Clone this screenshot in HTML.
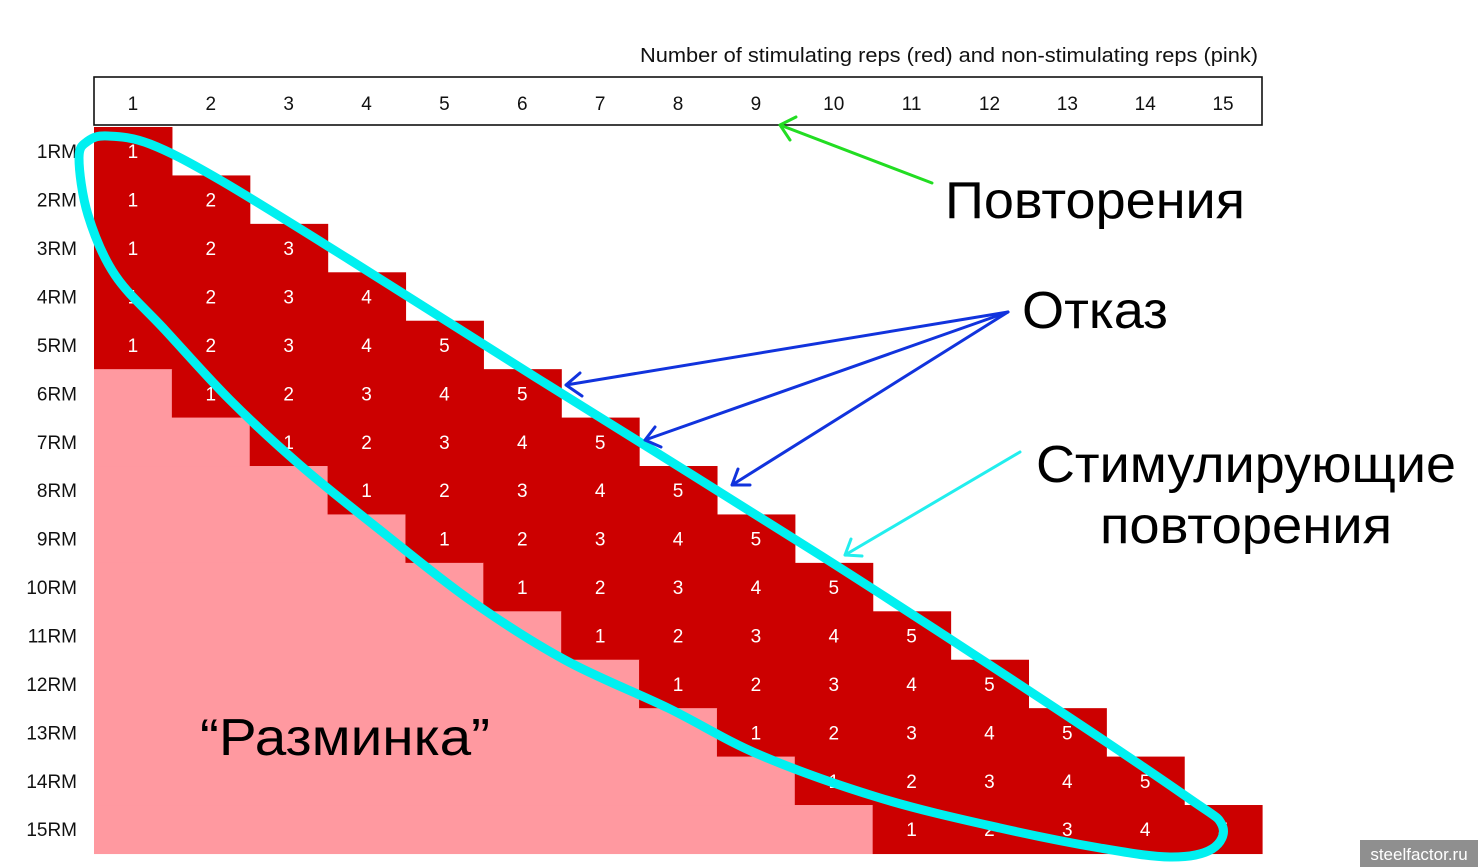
<!DOCTYPE html>
<html><head><meta charset="utf-8"><style>
html,body{margin:0;padding:0;background:#fff;}
svg{display:block;}
</style></head><body>
<svg width="1478" height="867" viewBox="0 0 1478 867" xmlns="http://www.w3.org/2000/svg" font-family="Liberation Sans, sans-serif">
<rect width="1478" height="867" fill="#fff"/>
<text x="640" y="62" font-size="20" fill="#111" textLength="618" lengthAdjust="spacingAndGlyphs">Number of stimulating reps (red) and non-stimulating reps (pink)</text>
<rect x="94" y="77" width="1168" height="48" fill="#fff" stroke="#111" stroke-width="1.6"/>
<g id="cells"></g>
<g id="txt" font-size="19" text-anchor="middle"></g>
<path id="ell" fill="none" stroke="#00f0f0" stroke-width="9" stroke-linejoin="round"/>
<g stroke-width="3" fill="none" stroke-linecap="round">
<path d="M932,183 L780,125 M780,125 L796,117 M780,125 L790,140" stroke="#22dd22"/>
<path d="M1008,312 L566,385 M566,385 L580,373 M566,385 L582,396" stroke="#1133dd"/>
<path d="M1008,312 L645,440 M645,440 L655,427 M645,440 L661,447" stroke="#1133dd"/>
<path d="M1008,312 L732,485 M732,485 L738,469 M732,485 L750,485" stroke="#1133dd"/>
<path d="M1020,452 L845,555 M845,555 L851,539 M845,555 L862,556" stroke="#22eeee"/>
</g>
<g fill="#000" font-size="52">
<text x="945" y="218" textLength="300" lengthAdjust="spacingAndGlyphs">Повторения</text>
<text x="1022" y="328" textLength="146" lengthAdjust="spacingAndGlyphs">Отказ</text>
<text x="1036" y="482" textLength="420" lengthAdjust="spacingAndGlyphs">Стимулирующие</text>
<text x="1100" y="543" textLength="292" lengthAdjust="spacingAndGlyphs">повторения</text>
<text x="200" y="755" textLength="290" lengthAdjust="spacingAndGlyphs">“Разминка”</text>
</g>
<rect x="1360" y="840" width="118" height="27" fill="#8f8f8f"/>
<text x="1419" y="860" font-size="17" fill="#fff" text-anchor="middle">steelfactor.ru</text>
</svg>
<script>
var ns="http://www.w3.org/2000/svg";
var cells=document.getElementById("cells"),txt=document.getElementById("txt");
var x0=94,cw=1168/15,y0=127,rh=48.43;
function rect(x,y,w,h,f){var r=document.createElementNS(ns,"rect");r.setAttribute("x",x);r.setAttribute("y",y);r.setAttribute("width",w);r.setAttribute("height",h);r.setAttribute("fill",f);cells.appendChild(r);}
function t(x,y,s,f,a){var e=document.createElementNS(ns,"text");e.setAttribute("x",x);e.setAttribute("y",y);e.setAttribute("fill",f);if(a)e.setAttribute("text-anchor",a);e.textContent=s;txt.appendChild(e);}
for(var c=1;c<=15;c++)t(x0+(c-0.5)*cw,110,c,"#111");
for(var r=1;r<=15;r++){
 var y=y0+(r-1)*rh, s=Math.max(1,r-4);
 if(r>5)rect(x0,y,(r-5)*cw+0.6,rh+0.6,"#ff99a0");
 rect(x0+(s-1)*cw,y,(r-s+1)*cw+0.6,rh+0.6,"#cc0000");
 for(var c2=s;c2<=r;c2++)t(x0+(c2-0.5)*cw,y+rh/2+7,c2-s+1,"#fff");
 t(77,y+rh/2+7,r+"RM","#111","end");
}
var P=[[79,158],[88,141],[108,136],[150,144],[220,180],[350,260],[540,380],[823,557],[1043,700],[1187,797],[1222,825],[1212,849],[1170,857],[1100,848],[1000,828],[880,798],[760,755],[668,708],[565,660],[470,600],[380,530],[300,465],[230,400],[165,330],[115,275],[88,215]];
var n=P.length,d="M"+P[0][0]+","+P[0][1];
for(var i=0;i<n;i++){var p0=P[(i-1+n)%n],p1=P[i],p2=P[(i+1)%n],p3=P[(i+2)%n];
 d+=" C"+(p1[0]+(p2[0]-p0[0])/6).toFixed(1)+","+(p1[1]+(p2[1]-p0[1])/6).toFixed(1)+" "+(p2[0]-(p3[0]-p1[0])/6).toFixed(1)+","+(p2[1]-(p3[1]-p1[1])/6).toFixed(1)+" "+p2[0]+","+p2[1];}
document.getElementById("ell").setAttribute("d",d+"Z");
</script>
</body></html>
